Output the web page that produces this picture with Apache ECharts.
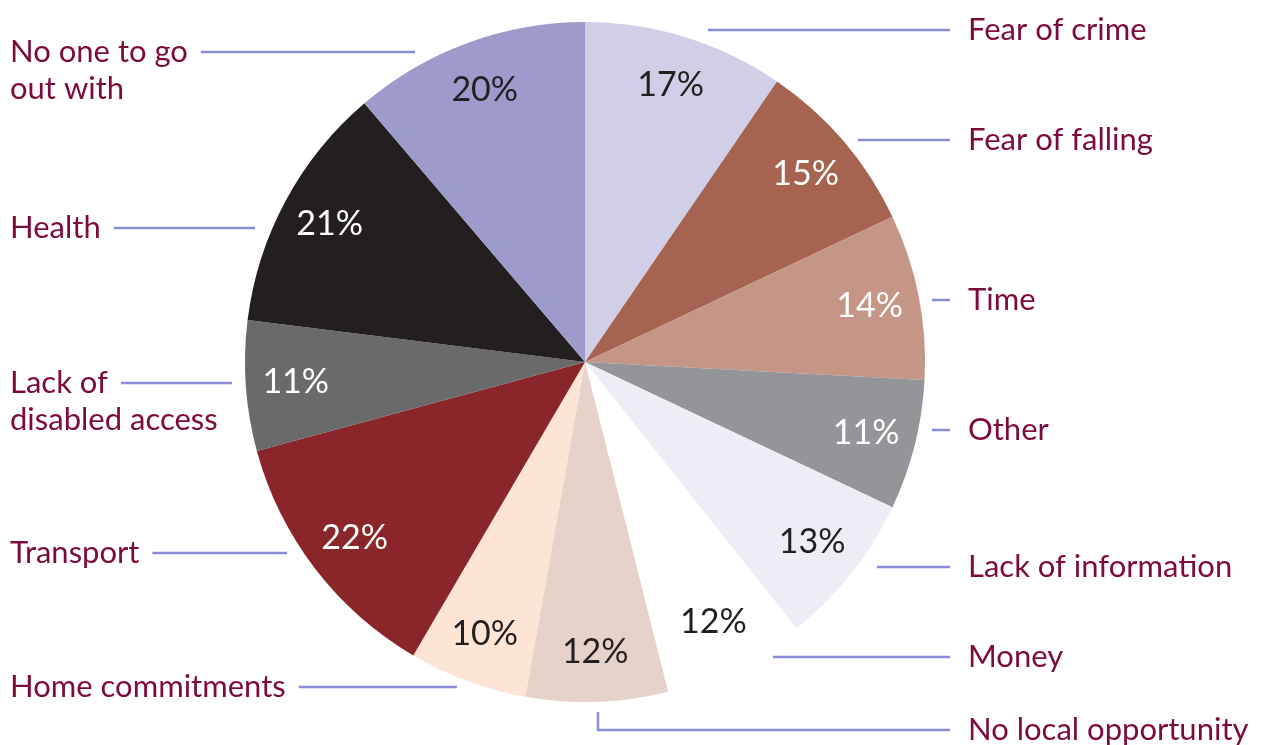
<!DOCTYPE html>
<html>
<head>
<meta charset="utf-8">
<script src="https://cdn.jsdelivr.net/npm/echarts@6/dist/echarts.min.js"></script>
<style>
html, body { margin: 0; padding: 0; background: #fff; }
#chart { width: 1265px; height: 745px; }
</style>
</head>
<body>
<div id="chart"></div>
<script>
// clockwise from 12 o'clock
var reasons = ['Fear of crime', 'Fear of falling', 'Time', 'Other', 'Lack of information', 'Money',
    'No local opportunity', 'Home commitments', 'Transport', 'Lack of\ndisabled access', 'Health', 'No one to go\nout with'];
var shares = [17, 15, 14, 11, 13, 12, 12, 10, 22, 11, 21, 20];

var sliceColors = ['#d0cfe7', '#a56350', '#c59585', '#939598', '#ededf6', '#ffffff',
    '#e6d2c9', '#fde4d5', '#8a2529', '#6a6a6b', '#231f20', '#9c9bcc'];
var pctInk = ['#231f20', '#fff', '#fff', '#fff', '#231f20', '#231f20',
    '#231f20', '#231f20', '#fff', '#fff', '#fff', '#231f20'];

// label placement: [leader y, leader end next to the pie]
var leaders = [[30, 708], [140, 858], [300, 932], [430, 932], [567, 877], [657, 773],
    [730, 598], [687, 457], [553, 287], [383, 232], [228, 255], [52, 415]];

var CX = 585, CY = 362, R = 340;
var NAME_SIZE = 31;
var nameColor = '#7d0a3c';
var lineColor = '#8c8cdc';

var ctx = document.createElement('canvas').getContext('2d');
ctx.font = NAME_SIZE + 'px Lato';
function firstLineWidth(s) {
    return ctx.measureText(s.split('\n')[0]).width;
}

var chart = echarts.init(document.getElementById('chart'));

var sliceData = reasons.map(function (name, i) {
    return { name: name, value: shares[i], itemStyle: { color: sliceColors[i] } };
});
var pctData = reasons.map(function (name, i) {
    return { name: name, value: shares[i], label: { color: pctInk[i] } };
});

chart.setOption({
    animation: false,
    backgroundColor: '#fff',
    series: [{
        type: 'pie',
        center: [CX, CY],
        radius: [0, R],
        startAngle: 90,
        clockwise: true,
        avoidLabelOverlap: false,
        silent: true,
        itemStyle: { borderWidth: 0 },
        label: {
            show: true,
            position: 'outside',
            formatter: '{b}',
            fontFamily: 'Lato',
            fontSize: NAME_SIZE,
            lineHeight: 37,
            color: nameColor
        },
        labelLine: {
            show: true,
            lineStyle: { color: lineColor, width: 2.5 }
        },
        labelLayout: function (params) {
            var i = params.dataIndex;
            var y = leaders[i][0], inner = leaders[i][1];
            var right = i < 7;
            var pts;
            if (right) {
                if (Math.abs(y - CY) > R) {
                    pts = [[inner, CY + R + 10], [inner, y], [950, y]];
                } else {
                    pts = [[inner, y], [inner, y], [950, y]];
                }
            } else {
                var end = 10 + firstLineWidth(reasons[i]) + 13;
                pts = [[inner, y], [inner, y], [end, y]];
            }
            return {
                x: right ? 968 : 10,
                y: y - 18.5,
                align: 'left',
                verticalAlign: 'top',
                labelLinePoints: pts
            };
        },
        data: sliceData
    }, {
        type: 'pie',
        center: [CX, CY],
        radius: [234, R],
        startAngle: 90,
        clockwise: true,
        silent: true,
        itemStyle: { color: 'rgba(0,0,0,0)', borderWidth: 0 },
        label: {
            show: true,
            position: 'inside',
            formatter: '{c}%',
            fontFamily: 'Lato',
            fontSize: 34
        },
        labelLine: { show: false },
        data: pctData
    }]
});
</script>
</body>
</html>
